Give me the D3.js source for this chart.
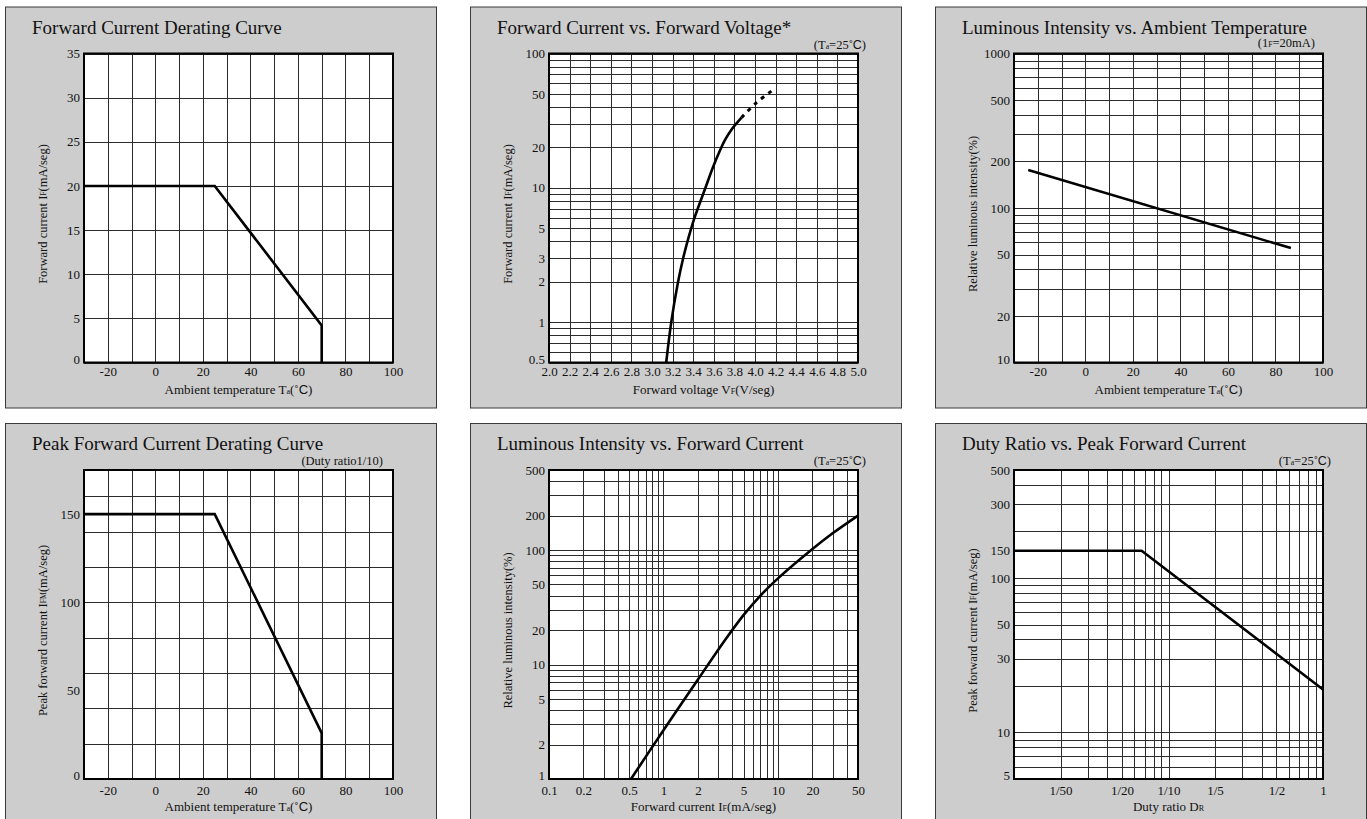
<!DOCTYPE html>
<html lang="en">
<head>
<meta charset="utf-8" />
<title>LED characteristic curves</title>
<style>
  body { margin: 0; background: #fff; }
  svg text { font-family: "Liberation Serif", "Times New Roman", serif; fill: #111; }
  .grid line { stroke: #2b2b2b; stroke-width: 1px; shape-rendering: crispEdges; }
  .grid path, .ticks path { display: none; }
</style>
</head>
<body>
<div id="vis"></div>
<script src="https://cdn.jsdelivr.net/npm/d3@7"></script>
<script>
// --- data ---
const derateTemp = [-30, 25, 70, 70];
const derateIF = [20, 20, 4.2, 0];

const fvVoltSolid = [3.138, 3.187, 3.25, 3.303, 3.36, 3.41, 3.519, 3.59, 3.663, 3.713, 3.778, 3.869];
const fvCurrSolid = [0.5, 1, 1.94, 3.0, 4.4, 5.9, 10, 14.1, 19.2, 23.0, 27.5, 33.3];
const fvVoltDash = [3.869, 4.004, 4.159];
const fvCurrDash = [33.3, 42.4, 52.5];

const ambTemp = [-24, 86.5];
const ambRel = [176, 55];

const peakTemp = [-30, 25, 70, 70];
const peakIFM = [150, 150, 26, 0];

const lumIF = [0.52, 1, 2, 3.5, 5, 7, 10, 20, 30, 50];
const lumRel = [1, 2.67, 7.4, 16.7, 27, 39.8, 56.5, 102, 140, 200];

const dutyRatio = [0.01, 0.067, 1];
const dutyPeak = [150, 150, 19];

// tick labels
const tempTicks = [-20, 0, 20, 40, 60, 80, 100];
const derateIFTicks = [0, 5, 10, 15, 20, 25, 30, 35];
const voltTicks = [2.0, 2.2, 2.4, 2.6, 2.8, 3.0, 3.2, 3.4, 3.6, 3.8, 4.0, 4.2, 4.4, 4.6, 4.8, 5.0];
const fvCurrTicks = [0.5, 1, 2, 3, 5, 10, 20, 50, 100];
const ambRelTicks = [10, 20, 50, 100, 200, 500, 1000];
const peakTicks = [0, 50, 100, 150];
const lumIFTicks = [0.1, 0.2, 0.5, 1, 2, 5, 10, 20, 50];
const lumRelTicks = [1, 2, 5, 10, 20, 50, 100, 200, 500];
const dutyTicks = [0.02, 0.05, 0.1, 0.2, 0.5, 1];
const dutyTickLabels = ["1/50", "1/20", "1/10", "1/5", "1/2", "1"];
const dutyPeakTicks = [5, 10, 30, 50, 100, 150, 300, 500];

const svg = d3.select("#vis").append("svg").attr("width", 1367).attr("height", 819);

function rich(sel, parts) {
  parts.forEach(p => {
    const t = sel.append("tspan").text(p[0]);
    if (p[1] === "sub") t.attr("font-size", "0.62em");
    if (p[1] === "sans") t.attr("font-family", "'Liberation Sans', Arial, sans-serif");
  });
}

const tempLabel = [["Ambient temperature T"], ["a", "sub"], ["(˚"], ["C", "sans"], [")"]];
const ta25 = [["(T"], ["a", "sub"], ["=25˚"], ["C", "sans"], [")"]];

function panel(o) {
  const W = 309, H = 309;
  const g = svg.append("g").attr("transform", `translate(${o.left},${o.top})`);
  g.append("rect").attr("x", 0.5).attr("y", 0.5).attr("width", 431).attr("height", o.boxH)
    .attr("fill", "#cdcdcd").attr("stroke", "#3a3a3a");
  g.append("text").attr("x", 27).attr("y", 27).attr("font-size", 19).text(o.title);

  const p = g.append("g").attr("transform", "translate(79,47)");
  p.append("rect").attr("width", W).attr("height", H).attr("fill", "#fff");

  const x = (o.xLog ? d3.scaleLog() : d3.scaleLinear()).domain(o.xDomain).range([0, W]);
  const y = (o.yLog ? d3.scaleLog() : d3.scaleLinear()).domain(o.yDomain).range([H, 0]);

  const xGrid = o.xLog ? x.ticks() : x.ticks(o.xGridN);
  const yGrid = o.yLog ? y.ticks() : y.ticks(o.yGridN);

  p.append("g").attr("class", "grid").attr("transform", `translate(0,${H})`)
    .call(d3.axisBottom(x).tickValues(xGrid).tickSize(-H).tickFormat(""));
  p.append("g").attr("class", "grid")
    .call(d3.axisLeft(y).tickValues(yGrid).tickSize(-W).tickFormat(""));

  const xa = p.append("g").attr("class", "ticks").attr("transform", `translate(0,${H})`)
    .call(d3.axisBottom(x).tickValues(o.xTicks).tickSize(0).tickPadding(o.xPad)
      .tickFormat((d, i) => o.xFmt ? o.xFmt(d, i) : d));
  xa.attr("font-family", null).attr("font-size", 13);
  const ya = p.append("g").attr("class", "ticks")
    .call(d3.axisLeft(y).tickValues(o.yTicks).tickSize(0).tickPadding(4)
      .tickFormat(d => d));
  ya.attr("font-family", null).attr("font-size", 13);
  // lowest label sits a little above the frame corner, as in the datasheet
  ya.selectAll("text").filter(d => d === o.yDomain[0]).attr("dy", "0.05em");
  p.selectAll(".ticks text").attr("fill", "#111");

  o.lines.forEach(l => {
    const pts = l.xs.map((v, i) => [x(v), y(l.ys[i])]);
    p.append("path")
      .attr("d", d3.line().curve(l.smooth ? d3.curveCatmullRom.alpha(0.5) : d3.curveLinear)(pts))
      .attr("fill", "none").attr("stroke", "#000")
      .attr("stroke-width", l.dash ? 3 : 2.6)
      .attr("stroke-dasharray", l.dash || null);
  });

  p.append("rect").attr("width", W).attr("height", H).attr("fill", "none")
    .attr("stroke", "#000").attr("stroke-width", 2);

  rich(p.append("text").attr("x", W / 2).attr("y", H + 31.5).attr("text-anchor", "middle")
    .attr("font-size", 13), o.xLabel);
  rich(p.append("text").attr("transform", `translate(-41,${H / 2 + 6}) rotate(-90)`)
    .attr("text-anchor", "middle").attr("dominant-baseline", "central")
    .attr("font-size", 12.5), o.yLabel);
  if (o.note) {
    rich(p.append("text").attr("x", W + o.note.dx).attr("y", o.note.dy)
      .attr("text-anchor", "end").attr("font-size", 12.5), o.note.parts);
  }
}

panel({
  left: 5, top: 6.5, boxH: 401, title: "Forward Current Derating Curve",
  xDomain: [-30, 100], yDomain: [0, 35], xGridN: 13, yGridN: 7, xPad: 4.5,
  xTicks: tempTicks, yTicks: derateIFTicks,
  xLabel: tempLabel, yLabel: [["Forward current I"], ["F", "sub"], ["(mA/seg)"]],
  lines: [{ xs: derateTemp, ys: derateIF }]
});

panel({
  left: 470, top: 6.5, boxH: 401, title: "Forward Current vs. Forward Voltage*",
  xDomain: [2, 5], yDomain: [0.5, 100], yLog: true, xGridN: 15, xPad: 4.5,
  xTicks: voltTicks, yTicks: fvCurrTicks, xFmt: d => d3.format(".1f")(d),
  xLabel: [["Forward voltage V"], ["F", "sub"], ["(V/seg)"]],
  yLabel: [["Forward current I"], ["F", "sub"], ["(mA/seg)"]],
  note: { dx: 8, dy: -5, parts: ta25 },
  lines: [
    { xs: fvVoltSolid, ys: fvCurrSolid, smooth: true },
    { xs: fvVoltDash, ys: fvCurrDash, dash: "4,5", smooth: true }
  ]
});

panel({
  left: 935, top: 6.5, boxH: 401, title: "Luminous Intensity vs. Ambient Temperature",
  xDomain: [-30, 100], yDomain: [10, 1000], yLog: true, xGridN: 13, xPad: 4.5,
  xTicks: tempTicks, yTicks: ambRelTicks,
  xLabel: tempLabel, yLabel: [["Relative luminous intensity(%)"]],
  note: { dx: -8, dy: -6.5, parts: [["(1"], ["F", "sub"], ["=20mA)"]] },
  lines: [{ xs: ambTemp, ys: ambRel }]
});

panel({
  left: 5, top: 423, boxH: 420, title: "Peak Forward Current Derating Curve",
  xDomain: [-30, 100], yDomain: [0, 175], xGridN: 13, yGridN: 7, xPad: 6.5,
  xTicks: tempTicks, yTicks: peakTicks,
  xLabel: tempLabel, yLabel: [["Peak forward current I"], ["FM", "sub"], ["(mA/seg)"]],
  note: { dx: -10, dy: -5, parts: [["(Duty ratio1/10)"]] },
  lines: [{ xs: peakTemp, ys: peakIFM }]
});

panel({
  left: 470, top: 423, boxH: 420, title: "Luminous Intensity vs. Forward Current",
  xDomain: [0.1, 50], yDomain: [1, 500], xLog: true, yLog: true, xPad: 6.5,
  xTicks: lumIFTicks, yTicks: lumRelTicks,
  xLabel: [["Forward current I"], ["F", "sub"], ["(mA/seg)"]],
  yLabel: [["Relative luminous intensity(%)"]],
  note: { dx: 8, dy: -5, parts: ta25 },
  lines: [{ xs: lumIF, ys: lumRel, smooth: true }]
});

panel({
  left: 935, top: 423, boxH: 420, title: "Duty Ratio vs. Peak Forward Current",
  xDomain: [0.01, 1], yDomain: [5, 500], xLog: true, yLog: true, xPad: 6.5,
  xTicks: dutyTicks, yTicks: dutyPeakTicks, xFmt: (d, i) => dutyTickLabels[i],
  xLabel: [["Duty ratio D"], ["R", "sub"]],
  yLabel: [["Peak forward current I"], ["F", "sub"], ["(mA/seg)"]],
  note: { dx: 8, dy: -5, parts: ta25 },
  lines: [{ xs: dutyRatio, ys: dutyPeak }]
});
</script>
</body>
</html>
